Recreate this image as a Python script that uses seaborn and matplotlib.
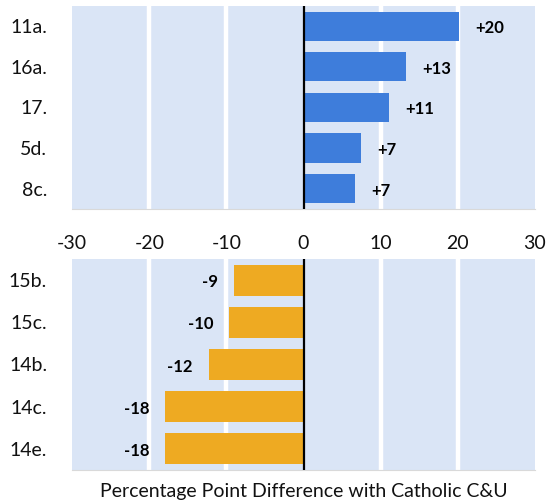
import pandas as pd
import matplotlib.pyplot as plt
import seaborn as sns

# datos
cats_pos = ['11a.', '16a.', '17.', '5d.', '8c.']
vals_pos = [20.2, 13.3, 11.1, 7.5, 6.7]
labels_pos = ['+20', '+13', '+11', '+7', '+7']

cats_neg = ['15b.', '15c.', '14b.', '14c.', '14e.']
vals_neg = [-9.0, -9.6, -12.3, -17.9, -17.9]
labels_neg = ['-9', '-10', '-12', '-18', '-18']

xticks = [-30, -20, -10, 0, 10, 20, 30]

sns.set_style('white')
plt.rcParams['font.family'] = ['Lato', 'DejaVu Sans']
plt.rcParams['axes.unicode_minus'] = False
plt.rcParams['text.color'] = '#111111'
plt.rcParams['xtick.color'] = '#111111'
plt.rcParams['ytick.color'] = '#111111'
plt.rcParams['axes.labelcolor'] = '#111111'

bg = '#dae5f6'
azul = '#3e7ddb'
naranja = '#eeaa22'

fig = plt.figure(figsize=(5.59, 5.01), dpi=100)
ax1 = fig.add_axes([0.129, 0.583, 0.828, 0.405])
ax2 = fig.add_axes([0.129, 0.062, 0.828, 0.421])

df_pos = pd.DataFrame({'cat': cats_pos, 'val': vals_pos})
df_neg = pd.DataFrame({'cat': cats_neg, 'val': vals_neg})

sns.barplot(data=df_pos, x='val', y='cat', orient='h', color=azul, width=0.72,
            saturation=1, linewidth=0, ax=ax1, zorder=3)
sns.barplot(data=df_neg, x='val', y='cat', orient='h', color=naranja, width=0.74,
            saturation=1, linewidth=0, ax=ax2, zorder=3)

for ax in [ax1, ax2]:
    ax.set_facecolor(bg)
    ax.set_xlim(-30, 30)
    ax.set_xticks(xticks)
    for g in [-20, -10, 10, 20]:
        ax.axvline(g, color='white', lw=3.2, zorder=1)
    ax.axvline(0, color='black', lw=1.6, zorder=4)
    for s in ['top', 'right', 'left']:
        ax.spines[s].set_visible(False)
    ax.spines['bottom'].set_color('#d9d9d9')
    ax.spines['bottom'].set_linewidth(0.8)
    ax.tick_params(axis='both', length=0, labelsize=14)
    ax.tick_params(axis='y', pad=18)
    ax.set_ylabel('')

ax1.set_xlabel('')
ax1.tick_params(axis='x', pad=19)
ax2.set_xticklabels([])
ax2.set_xlabel('Percentage Point Difference with Catholic C&U', fontsize=14, labelpad=6)

for i, (v, t) in enumerate(zip(vals_pos, labels_pos)):
    ax1.text(v + 2.1, i + 0.05, t, ha='left', va='center', fontsize=12, fontweight='bold',
             color='black', zorder=5)
for i, (v, t) in enumerate(zip(vals_neg, labels_neg)):
    ax2.text(v - 2.1, i + 0.05, t, ha='right', va='center', fontsize=12, fontweight='bold',
             color='black', zorder=5)

plt.savefig('out.png', dpi=100)
